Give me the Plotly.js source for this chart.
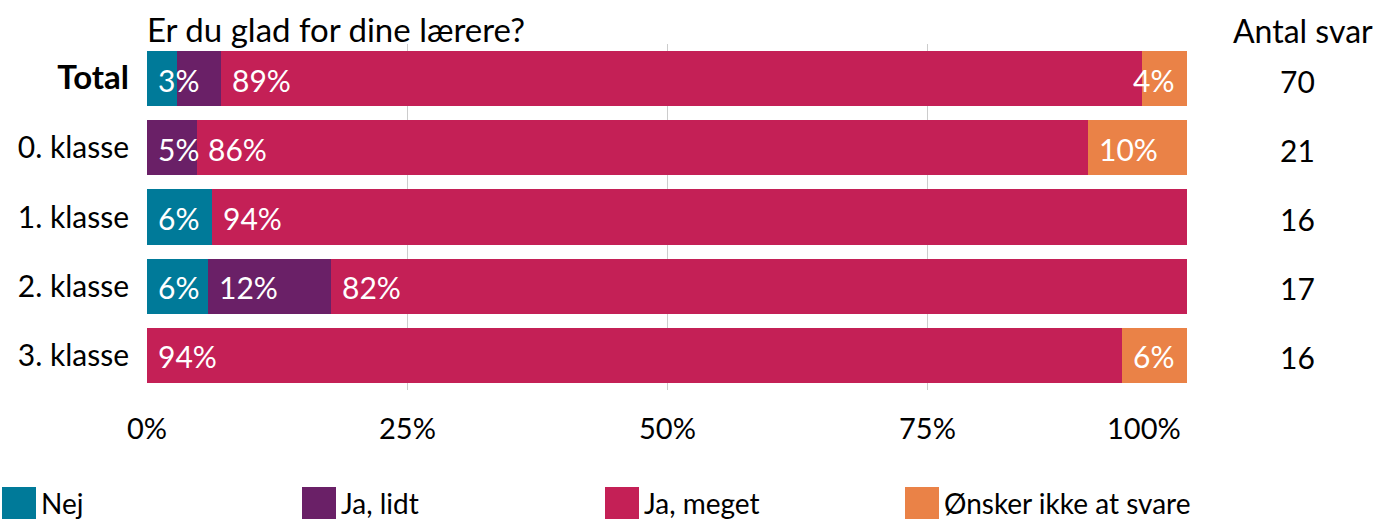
<!DOCTYPE html>
<html>
<head>
<meta charset="utf-8">
<script src="https://cdn.plot.ly/plotly-3.0.1.min.js"></script>
<style>
  html, body { margin: 0; padding: 0; background: #fff; }
  #chart { width: 1377px; height: 519px; }
</style>
</head>
<body>
<div id="chart"></div>
<script>
// ---- data ----
const categories = ["Total", "0. klasse", "1. klasse", "2. klasse", "3. klasse"];
const seriesNames = ["Nej", "Ja, lidt", "Ja, meget", "Ønsker ikke at svare"];
const nej      = [2, 0, 1, 1, 0];
const jaLidt   = [3, 1, 0, 2, 0];
const jaMeget  = [62, 18, 15, 14, 15];
const onsker   = [3, 2, 0, 0, 1];
const antalSvar = [70, 21, 16, 17, 16];
const xTickVals = [0, 0.25, 0.5, 0.75, 1];
const xTickText = ["0%", "25%", "50%", "75%", "100%"];
const chartTitle = "Er du glad for dine lærere?";
const countHeader = "Antal svar";

// ---- styling ----
const colors = ["#007A99", "#6A2067", "#C42056", "#EA8247"];
const FONT = "Lato, 'Open Sans', sans-serif";
const W = 1377, H = 519;
const M = { l: 147, r: 190, t: 44, b: 129 };
const PW = W - M.l - M.r, PH = H - M.t - M.b;
const px2x = px => (px - M.l) / PW;
const py2y = py => (H - M.b - py) / PH;

const allSeries = [nej, jaLidt, jaMeget, onsker];
const shares = allSeries.map(s => s.map((v, i) => v / antalSvar[i]));

const traces = shares.map((vals, k) => ({
  type: "bar",
  orientation: "h",
  name: seriesNames[k],
  y: categories,
  x: vals,
  marker: { color: colors[k], line: { width: 0 } },
  hoverinfo: "skip",
  showlegend: false
}));

const annotations = [];
const shapes = [];
const FS = 30;
const PAD = 9;
const cv = document.createElement("canvas").getContext("2d");
function textWidth(s, size) {
  cv.font = size + "px Lato";
  return cv.measureText(s).width;
}
// in-bar percentage labels
categories.forEach((cat, i) => {
  let cum = 0;
  let prevEnd = -Infinity;
  shares.forEach((vals, k) => {
    const v = vals[i];
    if (v > 0) {
      const label = Math.round(v * 100) + "%";
      const tw = textWidth(label, FS);
      const startPx = M.l + cum * PW + PAD;
      let ann;
      let left = startPx;
      if (startPx + tw > M.l + PW - 11) {
        left = M.l + PW - 11 - tw;
        ann = { x: 1, xanchor: "right", xshift: -11 };
      } else {
        ann = { x: cum, xanchor: "left", xshift: PAD };
      }
      if (left >= prevEnd - 2) {
        annotations.push(Object.assign(ann, {
          xref: "x", yref: "y", y: cat, yanchor: "middle", yshift: -1,
          text: label, showarrow: false,
          font: { family: FONT, size: FS, color: "#ffffff" }
        }));
        prevEnd = left + tw;
      }
    }
    cum += v;
  });
  // count column
  annotations.push({
    xref: "paper", yref: "y", x: px2x(1297), y: cat, xanchor: "center", yanchor: "middle", yshift: -2,
    text: String(antalSvar[i]), showarrow: false,
    font: { family: FONT, size: FS, color: "#000" }
  });
});
annotations.push({
  xref: "paper", yref: "paper", x: px2x(1303), y: py2y(31), xanchor: "center", yanchor: "middle",
  text: countHeader, showarrow: false,
  font: { family: FONT, size: 32, color: "#000" }
});

// x tick labels (last one kept inside the plot edge)
xTickVals.forEach((v, j) => {
  const last = j === xTickVals.length - 1;
  annotations.push({
    xref: "x", yref: "paper", x: v, y: py2y(428),
    xanchor: last ? "right" : "center", xshift: last ? -4 : 0, yanchor: "middle",
    text: xTickText[j], showarrow: false,
    font: { family: FONT, size: 29, color: "#000" }
  });
});

// legend (custom)
const legendX = [2, 302, 605, 905];
seriesNames.forEach((n, k) => {
  shapes.push({
    type: "rect", xref: "paper", yref: "paper",
    x0: px2x(legendX[k]), x1: px2x(legendX[k] + 34),
    y0: py2y(522), y1: py2y(487),
    fillcolor: colors[k], line: { width: 0 }, layer: "above"
  });
  annotations.push({
    xref: "paper", yref: "paper", x: px2x(legendX[k] + 37), y: py2y(503),
    xanchor: "left", yanchor: "middle", text: n, showarrow: false,
    font: { family: FONT, size: 28, color: "#000" }
  });
});

const layout = {
  width: W, height: H,
  margin: M,
  paper_bgcolor: "#fff", plot_bgcolor: "#fff",
  barmode: "stack",
  bargap: 0.2,
  showlegend: false,
  font: { family: FONT, size: FS, color: "#000" },
  title: {
    text: chartTitle, x: M.l / W, xanchor: "left", xref: "container",
    y: 1 - 30 / H, yanchor: "middle",
    font: { family: FONT, size: 33, color: "#000" }
  },
  xaxis: {
    range: [0, 1], tickvals: xTickVals, showticklabels: false,
    showgrid: true, gridcolor: "#cccccc", gridwidth: 1,
    zeroline: false, showline: false, ticks: "",
    fixedrange: true, layer: "below traces"
  },
  yaxis: {
    type: "category", categoryorder: "array", categoryarray: categories,
    autorange: "reversed", showgrid: false, zeroline: false, showline: false,
    ticks: "", ticklabelstandoff: 17, fixedrange: true,
    tickfont: { family: FONT, size: 30, color: "#000" },
    tickvals: categories,
    ticktext: categories.map(c => c === "Total" ? "<span style='font-size:33px;font-weight:bold'>" + c + "</span>" : c)
  },
  annotations: annotations,
  shapes: shapes
};

Plotly.newPlot("chart", traces, layout, { staticPlot: true, displayModeBar: false });
</script>
</body>
</html>
